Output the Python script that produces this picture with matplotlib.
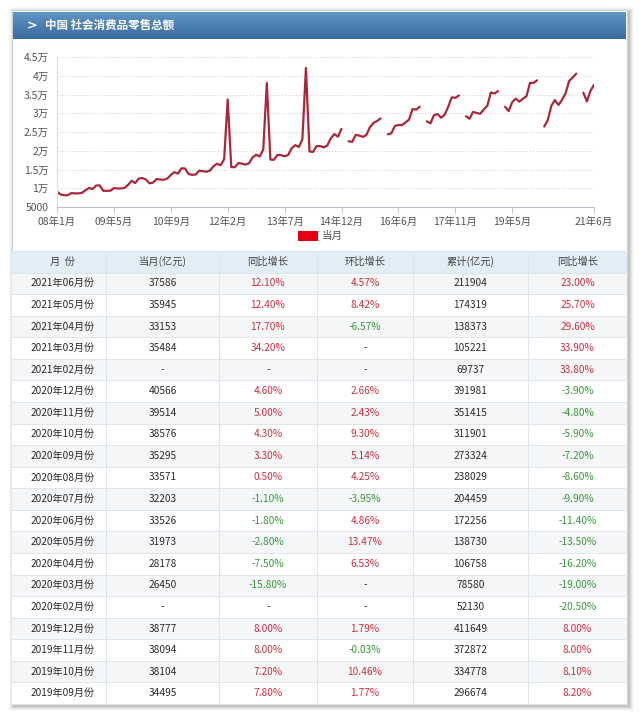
"""
中国 社会消费品零售总额 - 月度走势图 + 数据表
"""

import numpy as np
import matplotlib.pyplot as plt
from matplotlib.patches import Rectangle

plt.rcParams['font.family'] = ['Noto Sans CJK SC', 'DejaVu Sans']
plt.rcParams['axes.unicode_minus'] = False

# ---- 图表数据: 当月(亿元), None = 无数据 ----
# 2008-2011: 1-12月; 2012起: 2-12月 (1-2月合并记在2月)
m2008 = [9077, 8355, 8123, 8142, 8703, 8642, 8629, 8767, 9447, 10083, 9791, 10729]
m2009 = [10757, 9324, 9318, 9344, 10028, 9942, 9937, 10116, 10913, 12002, 11379, 12610]
m2010 = [12718, 12334, 11322, 11510, 12455, 12330, 12253, 12570, 13537, 14285, 13911, 15330]
m2011 = [15249, 13769, 13588, 13649, 14697, 14565, 14408, 14705, 15865, 16546, 16128, 17739]
m2012 = [33669, 15650, 15603, 16715, 16584, 16315, 16658, 18227, 18934, 18477, 20334]
m2013 = [38097, 17640, 17600, 18886, 18827, 18513, 18886, 20653, 21491, 21012, 23060]
m2014 = [42074, 19801, 19701, 21250, 21242, 20916, 21389, 23342, 24451, 23743, 25801]
m2015 = [None, 22523, 22386, 24242, 24054, 23688, 24214, 26304, 27416, 27937, 28635]
m2016 = [None, 24375, 24646, 26611, 26857, 26827, 27539, 28333, 31119, 30959, 31757]
m2017 = [None, 27864, 27279, 29459, 29808, 28829, 29567, 31731, 34240, 34108, 34734]
m2018 = [None, 29194, 28542, 30359, 30078, 29852, 31007, 32005, 35534, 35260, 35893]
m2019 = [None, 31726, 30586, 32956, 33878, 33073, 33896, 34495, 38104, 38094, 38777]
m2020 = [None, 26450, 28178, 31973, 33526, 32203, 33571, 35295, 38576, 39514, 40566]
m2021 = [None, 35484, 33153, 35945, 37586]

full_years = [2008, 2009, 2010, 2011]
part_years = [2012, 2013, 2014, 2015, 2016, 2017, 2018, 2019, 2020, 2021]

x_tick_labels = ['08年1月', '09年5月', '10年9月', '12年2月', '13年7月',
                 '14年12月', '16年6月', '17年11月', '19年5月', '21年6月']
y_ticks = [5000, 10000, 15000, 20000, 25000, 30000, 35000, 40000, 45000]
y_tick_labels = ['5000', '1万', '1.5万', '2万', '2.5万', '3万', '3.5万', '4万', '4.5万']

# ---- 表格数据 ----
tbl_month = ['2021年06月份', '2021年05月份', '2021年04月份', '2021年03月份', '2021年02月份',
             '2020年12月份', '2020年11月份', '2020年10月份', '2020年09月份', '2020年08月份',
             '2020年07月份', '2020年06月份', '2020年05月份', '2020年04月份', '2020年03月份',
             '2020年02月份', '2019年12月份', '2019年11月份', '2019年10月份', '2019年09月份']
tbl_value = [37586, 35945, 33153, 35484, None, 40566, 39514, 38576, 35295, 33571,
             32203, 33526, 31973, 28178, 26450, None, 38777, 38094, 38104, 34495]
tbl_yoy = [12.10, 12.40, 17.70, 34.20, None, 4.60, 5.00, 4.30, 3.30, 0.50,
           -1.10, -1.80, -2.80, -7.50, -15.80, None, 8.00, 8.00, 7.20, 7.80]
tbl_mom = [4.57, 8.42, -6.57, None, None, 2.66, 2.43, 9.30, 5.14, 4.25,
           -3.95, 4.86, 13.47, 6.53, None, None, 1.79, -0.03, 10.46, 1.77]
tbl_cum = [211904, 174319, 138373, 105221, 69737, 391981, 351415, 311901, 273324, 238029,
           204459, 172256, 138730, 106758, 78580, 52130, 411649, 372872, 334778, 296674]
tbl_cum_yoy = [23.00, 25.70, 29.60, 33.90, 33.80, -3.90, -4.80, -5.90, -7.20, -8.60,
               -9.90, -11.40, -13.50, -16.20, -19.00, -20.50, 8.00, 8.00, 8.10, 8.20]
tbl_header = ['月  份', '当月(亿元)', '同比增长', '环比增长', '累计(亿元)', '同比增长']

# 把年度列表拼成一条序列 (类目轴)
by_year = {2008: m2008, 2009: m2009, 2010: m2010, 2011: m2011, 2012: m2012, 2013: m2013,
           2014: m2014, 2015: m2015, 2016: m2016, 2017: m2017, 2018: m2018, 2019: m2019,
           2020: m2020, 2021: m2021}
series = []
for yr in full_years + part_years:
    series += by_year[yr]
values = np.array([np.nan if v is None else v for v in series], dtype=float)
idx = np.arange(len(values))
tick_idx = list(range(0, len(values) - 16, 16)) + [len(values) - 1]

RED = '#c9323f'
GREEN = '#3a973a'
TEXT = '#2b2b2b'

W, H = 639, 715
fig = plt.figure(figsize=(W / 100, H / 100), dpi=100)
fig.patch.set_facecolor('white')

# ---- 背景层 (像素坐标) ----
bg = fig.add_axes([0, 0, 1, 1], zorder=0)
bg.set_xlim(0, W)
bg.set_ylim(H, 0)
bg.axis('off')

L, R, T, B = 12, 627, 10, 704
# 阴影
for k, a in enumerate([0.04, 0.06, 0.09, 0.13, 0.18]):
    d = 5 - k
    bg.add_patch(Rectangle((L - d + 2, T - d + 2), R - L + 2 * d, B - T + 2 * d,
                           facecolor='#777777', edgecolor='none', alpha=a))
bg.add_patch(Rectangle((L, T), R - L, B - T, facecolor='white', edgecolor='#c9d3de', lw=0.8))

# 标题栏 渐变
grad = np.linspace(0, 1, 64).reshape(-1, 1)
top_c = np.array([0x5f, 0x95, 0xc6]) / 255
bot_c = np.array([0x3a, 0x6c, 0x9c]) / 255
img = top_c[None, None, :] * (1 - grad[:, :, None]) + bot_c[None, None, :] * grad[:, :, None]
bg.imshow(img, extent=[L + 1, R - 1, 39, 12], aspect='auto', zorder=1)
bg.set_xlim(0, W)
bg.set_ylim(H, 0)
bg.text(27, 25.5, '>', color='white', fontsize=9, fontweight='bold', va='center', ha='left',
        family='DejaVu Sans')
bg.text(45, 25.5, '中国 社会消费品零售总额', color='white', fontsize=8.3, fontweight='bold',
        va='center', ha='left')

# 图例
bg.add_patch(Rectangle((298, 231), 20, 10, facecolor='#e60012', edgecolor='none'))
bg.text(322, 236, '当月', fontsize=7.6, color='#555555', va='center', ha='left')

# ---- 表格 ----
col_x = [L, 106, 219, 317, 413, 528, R]
head_top = 251
row_h = (B - head_top) / (len(tbl_month) + 1)

bg.add_patch(Rectangle((L, head_top), R - L, row_h, facecolor='#e3edf8', edgecolor='none'))
for i in range(len(tbl_month)):
    y0 = head_top + row_h * (i + 1)
    fc = '#f5f6f7' if i % 2 == 0 else 'white'
    bg.add_patch(Rectangle((L, y0), R - L, row_h, facecolor=fc, edgecolor='none'))
for i in range(len(tbl_month) + 2):
    y0 = head_top + row_h * i
    bg.plot([L, R], [y0, y0], color='#dfe5ec', lw=0.7)
for x in col_x[1:-1]:
    bg.plot([x, x], [head_top, B], color='#dfe5ec', lw=0.7)

centers = [(col_x[j] + col_x[j + 1]) / 2 + (4 if j == 0 else 0) for j in range(6)]
for j, h in enumerate(tbl_header):
    bg.text(centers[j], head_top + row_h / 2, h, fontsize=7.4, color='#444444',
            ha='center', va='center')


def pct(v):
    if v is None:
        return '-', TEXT
    return f'{v:.2f}%', (RED if v >= 0 else GREEN)


for i in range(len(tbl_month)):
    yc = head_top + row_h * (i + 1.5)
    cells = [(tbl_month[i], TEXT),
             ('-' if tbl_value[i] is None else str(tbl_value[i]), TEXT),
             pct(tbl_yoy[i]), pct(tbl_mom[i]),
             (str(tbl_cum[i]), TEXT), pct(tbl_cum_yoy[i])]
    for j, (s, c) in enumerate(cells):
        bg.text(centers[j], yc, s, fontsize=7.3, color=c, ha='center', va='center')

# ---- 折线图 ----
ax = fig.add_axes([57 / W, 1 - 207 / H, (594 - 57) / W, 150 / H], zorder=2)
ax.patch.set_alpha(0)
ax.plot(idx, values, color='#a9283b', lw=1.6, solid_joinstyle='round', solid_capstyle='round')
ax.set_xlim(0, len(values) - 1)
ax.set_ylim(5000, 45000)
ax.set_yticks(y_ticks)
ax.set_yticklabels(y_tick_labels)
ax.set_xticks(tick_idx)
ax.set_xticklabels(x_tick_labels)
ax.tick_params(axis='y', length=0, labelsize=7.5, labelcolor='#555555', pad=6)
ax.tick_params(axis='x', length=4, width=0.7, color='#c0c8d2', labelsize=7.5,
               labelcolor='#555555', pad=3)
ax.grid(axis='y', linestyle=(0, (1, 2)), color='#cccccc', lw=0.7)
for s in ['top', 'right']:
    ax.spines[s].set_visible(False)
ax.spines['left'].set_color('#d6dde6')
ax.spines['left'].set_linewidth(0.8)
ax.spines['bottom'].set_color('#b8c2cc')
ax.spines['bottom'].set_linewidth(0.8)

plt.savefig('out.png', dpi=100)
plt.close()
